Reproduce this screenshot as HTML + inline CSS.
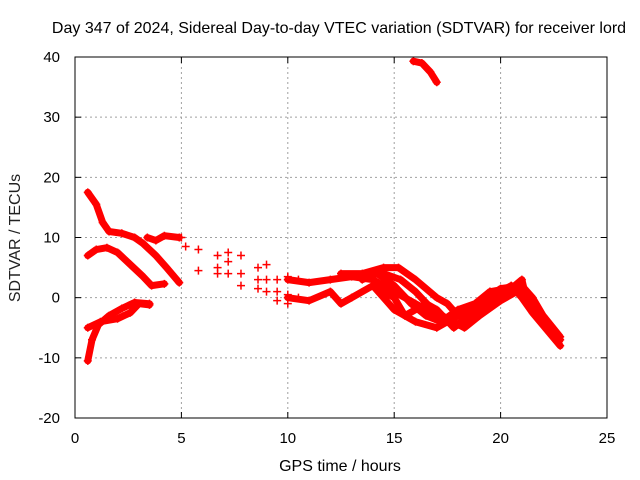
<!DOCTYPE html>
<html><head><meta charset="utf-8"><style>
body{margin:0;background:#fff}
svg{display:block;font-family:"Liberation Sans",sans-serif}
</style></head><body>
<svg id="c" width="640" height="480">
<rect width="640" height="480" fill="#fff"/>
<text x="339" y="33" font-size="16" text-anchor="middle">Day 347 of 2024, Sidereal Day-to-day VTEC variation (SDTVAR) for receiver lord</text>
<text x="340" y="471" font-size="16" text-anchor="middle">GPS time / hours</text>
<text transform="translate(20,238) rotate(-90)" font-size="16" text-anchor="middle" fill="#222">SDTVAR / TECUs</text>
<g id="grid"></g><g id="marks"></g>
<rect x="75" y="57" width="532" height="361" fill="none" stroke="#000"/>
</svg>
<script>
const xTicks=[0,5,10,15,20,25];
const yTicks=[-20,-10,0,10,20,30,40];
const trackA=[[0.6,17.5],[1,15.5],[1.3,12.5],[1.6,11],[2.2,10.7],[2.8,10],[3.2,9],[3.8,7],[4.3,5],[4.9,2.5]];
const trackB=[[0.6,7],[1,8],[1.5,8.3],[2,7.5],[2.6,5.5],[3.2,3.5],[3.6,2],[4.2,2.3]];
const trackC=[[3.4,10],[3.8,9.5],[4.2,10.3],[4.9,10]];
const trackD=[[0.6,-10.5],[0.8,-7],[1.1,-4.5],[1.6,-3],[2.2,-1.8],[2.8,-0.8],[3.5,-1]];
const trackE=[[0.6,-5],[1.2,-4],[2,-3.5],[2.6,-2.5],[3,-1],[3.5,-1.2]];
const trackF=[[15.9,39.3],[16.3,39],[16.7,37.5],[17,35.8]];
const trackG=[[10,3],[11,2.5],[12,3],[13,3.5],[14,3],[15,1],[16,-1],[17,-3],[18,-4.5],[19,-2],[20,0.5],[21,1],[22,-4],[22.8,-7]];
const trackH=[[12.5,4],[13.5,4],[14.5,5],[15.2,5],[16,3],[17,0],[17.5,-1],[18,-3],[19,-1],[20,1.5],[21,2],[21.5,0],[22,-3],[22.8,-6.5]];
const trackI=[[14,2],[15,0],[15.5,-3],[16.5,-1],[17,-2],[17.8,-5],[18.5,-3],[19.5,0],[20.5,2],[21,0],[21.5,-2.5],[22.8,-8]];
const trackJ=[[10,0],[11,-0.5],[12,1],[12.5,-1],[13,0],[14,2],[15,-2],[16,-4],[17,-5],[18,-3],[19,-2],[19.5,1],[20,0],[21,3],[21.2,0]];
const trackK=[[13.5,3],[14.2,4],[15,2],[15.8,-1],[16.5,-3],[17.2,-4],[18,-2],[18.8,-1],[19.5,1],[20.3,1.5]];
const trackL=[[14.5,4],[15.3,3],[16,1],[16.8,-2],[17.5,-3.5],[18.3,-5],[19,-3],[20,-0.5],[21,1.5]];
const scatter=[[5,10],[5.2,8.5],[5.8,8],[5.8,4.5],[6.7,7],[6.7,5],[6.7,4],[7.2,7.5],[7.2,6],[7.2,4],[7.8,7],[7.8,4],[7.8,2],[8.6,5],[8.6,3],[8.6,1.5],[9,5.5],[9,3],[9,1],[9.5,3],[9.5,1],[9.5,-0.5],[10,3.5],[10,0.5],[10,-1],[10.5,3],[10.5,0]];
const X=v=>75+v*(532/25);
const Y=v=>418-(v+20)*(361/60);
const NS="http://www.w3.org/2000/svg";
const grid=document.getElementById('grid'),marks=document.getElementById('marks');
function mk(tag,attrs,parent){const e=document.createElementNS(NS,tag);for(const k in attrs)e.setAttribute(k,attrs[k]);parent.appendChild(e);return e;}
xTicks.forEach(t=>{
 if(t>0&&t<25){const g=mk('line',{x1:X(t),x2:X(t),y1:57,y2:418,stroke:'#a0a0a0','stroke-dasharray':'2,3'},grid);
 
 }
 const a=mk('line',{x1:X(t),x2:X(t),y1:418,y2:412,stroke:'#000'},grid);
 
 
 const b=mk('line',{x1:X(t),x2:X(t),y1:57,y2:63,stroke:'#000'},grid);
 
 
 const l=mk('text',{x:X(t),y:443,'font-size':15,'text-anchor':'middle'},grid);l.textContent=t;
 
 
});
yTicks.forEach(t=>{
 if(t>-20&&t<40){const g=mk('line',{x1:75,x2:607,y1:Y(t),y2:Y(t),stroke:'#a0a0a0','stroke-dasharray':'2,3'},grid);
 
 }
 const a=mk('line',{x1:75,x2:81,y1:Y(t),y2:Y(t),stroke:'#000'},grid);
 
 
 const b=mk('line',{x1:601,x2:607,y1:Y(t),y2:Y(t),stroke:'#000'},grid);
 
 
 const l=mk('text',{x:60,y:Y(t)+5,'font-size':15,'text-anchor':'end'},grid);l.textContent=t;
 
 
});
function plus(p,parent){const x=X(p[0]),y=Y(p[1]);
 const e=mk('path',{d:`M${x-4},${y}H${x+4}M${x},${y-4}V${y+4}`,stroke:'#f00','stroke-width':1.5},parent);
 
 }
const tracks=[trackA,trackB,trackC,trackD,trackE,trackF,trackG,trackH,trackI,trackJ,trackK,trackL];
tracks.forEach((tr,i)=>{
 const g=mk('g',{},marks);
 
 
 const pl=mk('polyline',{points:tr.map(p=>X(p[0])+','+Y(p[1])).join(' '),fill:'none',stroke:'#f00','stroke-width':7,'stroke-linejoin':'round','stroke-linecap':'round'},g);
 
 
 tr.forEach(p=>plus(p,g));
});
const sg=mk('g',{},marks);


scatter.forEach(p=>plus(p,sg));
</script>
</body></html>
